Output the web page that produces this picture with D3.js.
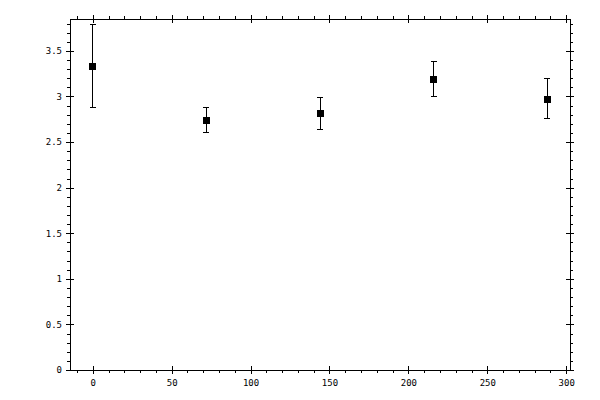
<!DOCTYPE html>
<html>
<head>
<meta charset="utf-8">
<script src="https://cdn.jsdelivr.net/npm/d3@7"></script>
<style>
  body { margin: 0; background: #fff; }
  svg text { font-family: "DejaVu Sans Mono", monospace; font-size: 9px; fill: #000; }
  svg line, svg rect { shape-rendering: crispEdges; }
</style>
</head>
<body>
<svg id="chart" width="600" height="400"></svg>
<script>
const xs = [0, 72, 144, 216, 288];
const ys = [3.334, 2.741, 2.818, 3.19, 2.971];
const yLow = [2.883, 2.609, 2.642, 3.004, 2.755];
const yHigh = [3.785, 2.884, 2.993, 3.389, 3.202];
const xTicks = [0, 50, 100, 150, 200, 250, 300];
const yTicks = [0, 0.5, 1, 1.5, 2, 2.5, 3, 3.5];

const svg = d3.select("#chart");
const margin = { top: 19, right: 30, bottom: 30, left: 70 };
const width = +svg.attr("width");
const height = +svg.attr("height");

const x = d3.scaleLinear().domain([-14.4, 302.4]).range([margin.left, width - margin.right]);
const y = d3.scaleLinear().domain([0, 3.85]).range([height - margin.bottom, margin.top]);

const xMinor = d3.range(-10, 303, 10).filter(v => v % 50 !== 0);
const yMinor = d3.range(0, 39).map(v => v / 10).filter(v => Math.round(v * 10) % 5 !== 0);
const fmt = d => String(d);

function ax(gen, tx, ty) {
  const g = svg.append("g").attr("transform", `translate(${tx},${ty})`).call(gen);
  g.select(".domain").remove();
  g.selectAll("line").attr("stroke", "#000");
  return g;
}

const yBot = y.range()[0], yTop = y.range()[1];
const xLeft = x.range()[0], xRight = x.range()[1];

// frame
svg.append("rect")
  .attr("x", xLeft).attr("y", yTop)
  .attr("width", xRight - xLeft).attr("height", yBot - yTop)
  .attr("fill", "none").attr("stroke", "#000");

// bottom
ax(d3.axisBottom(x).tickValues(xTicks).tickSize(4).tickPadding(6).tickFormat(fmt), 0, yBot);
ax(d3.axisTop(x).tickValues(xTicks).tickSize(4).tickFormat(""), 0, yBot);
ax(d3.axisBottom(x).tickValues(xMinor).tickSize(3).tickFormat(""), 0, yBot);
// top
ax(d3.axisTop(x).tickValues(xTicks).tickSize(4).tickFormat(""), 0, yTop);
ax(d3.axisBottom(x).tickValues(xTicks).tickSize(4).tickFormat(""), 0, yTop);
ax(d3.axisTop(x).tickValues(xMinor).tickSize(3).tickFormat(""), 0, yTop);
// left
ax(d3.axisLeft(y).tickValues(yTicks).tickSize(4).tickPadding(4).tickFormat(fmt), xLeft, 0);
ax(d3.axisRight(y).tickValues(yTicks).tickSize(4).tickFormat(""), xLeft, 0);
ax(d3.axisLeft(y).tickValues(yMinor).tickSize(3).tickFormat(""), xLeft, 0);
// right
ax(d3.axisRight(y).tickValues(yTicks).tickSize(4).tickFormat(""), xRight, 0);
ax(d3.axisLeft(y).tickValues(yTicks).tickSize(4).tickFormat(""), xRight, 0);
ax(d3.axisRight(y).tickValues(yMinor).tickSize(3).tickFormat(""), xRight, 0);

// error bars
const pts = xs.map((v, i) => ({ x: v, y: ys[i], lo: yLow[i], hi: yHigh[i] }));
const cap = 3;
const eb = svg.append("g").attr("stroke", "#000").attr("stroke-width", 1);
pts.forEach(d => {
  eb.append("line").attr("x1", x(d.x)).attr("x2", x(d.x)).attr("y1", y(d.lo)).attr("y2", y(d.hi));
  eb.append("line").attr("x1", x(d.x) - cap).attr("x2", x(d.x) + cap).attr("y1", y(d.lo)).attr("y2", y(d.lo));
  eb.append("line").attr("x1", x(d.x) - cap).attr("x2", x(d.x) + cap).attr("y1", y(d.hi)).attr("y2", y(d.hi));
});

svg.append("g").selectAll("rect").data(pts).join("rect")
  .attr("x", d => x(d.x) - 3.5)
  .attr("y", d => y(d.y) - 3.5)
  .attr("width", 7).attr("height", 7)
  .attr("fill", "#000");
</script>
</body>
</html>
